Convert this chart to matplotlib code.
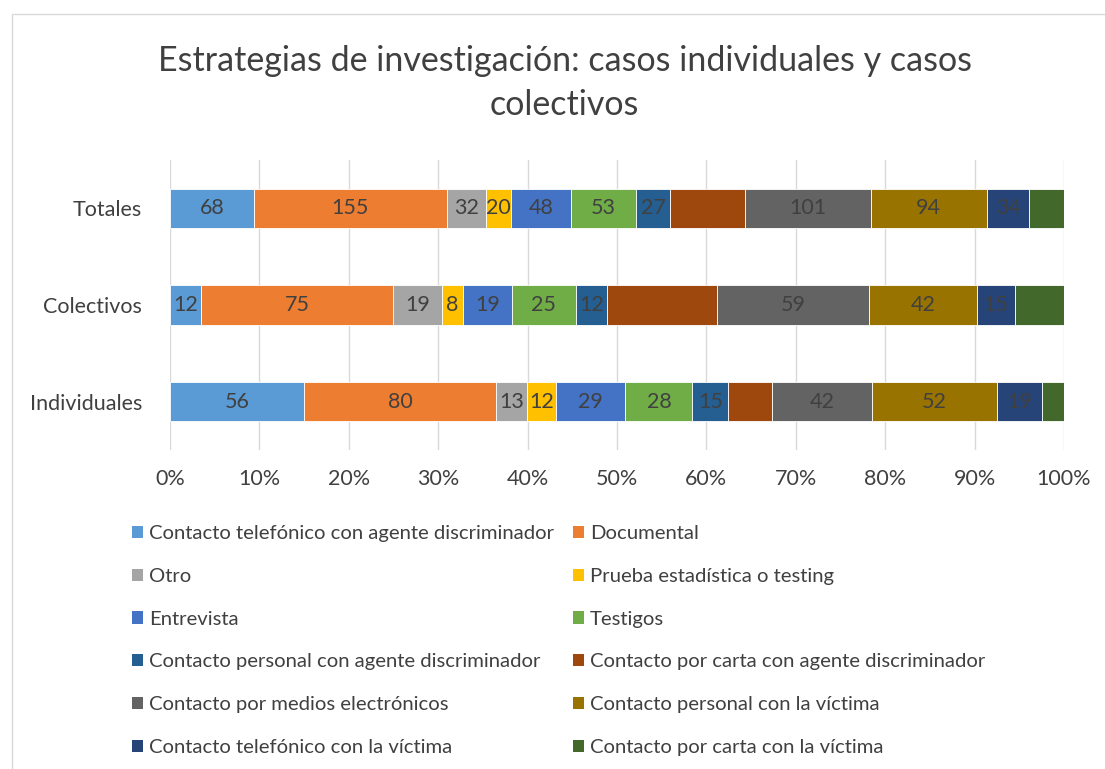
import numpy as np
import matplotlib.pyplot as plt
from matplotlib.patches import Patch, Rectangle

plt.rcParams['font.family'] = ['Lato', 'DejaVu Sans']

categorias = ['Individuales', 'Colectivos', 'Totales']
estrategias = [
    'Contacto telefónico con agente discriminador',
    'Documental',
    'Otro',
    'Prueba estadística o testing',
    'Entrevista',
    'Testigos',
    'Contacto personal con agente discriminador',
    'Contacto por carta con agente discriminador',
    'Contacto por medios electrónicos',
    'Contacto personal con la víctima',
    'Contacto telefónico con la víctima',
    'Contacto por carta con la víctima',
]
# filas: Individuales, Colectivos, Totales
individuales = [56, 80, 13, 12, 29, 28, 15, 18, 42, 52, 19, 9]
colectivos = [12, 75, 19, 8, 19, 25, 12, 43, 59, 42, 15, 19]
totales = [68, 155, 32, 20, 48, 53, 27, 61, 101, 94, 34, 28]
# segmentos sin etiqueta en el original
sin_etiqueta = [7, 11]

colores = ['#5B9BD5', '#ED7D31', '#A5A5A5', '#FFC000', '#4472C4', '#70AD47',
           '#255E91', '#9E480E', '#636363', '#997300', '#264478', '#43682B']

datos = np.array([individuales, colectivos, totales], dtype=float)
pct = datos / datos.sum(axis=1, keepdims=True) * 100

fig = plt.figure(figsize=(11.05, 7.69), dpi=100)
ax = fig.add_axes([170 / 1105, 1 - 450 / 769, 894 / 1105, 290 / 769])

y = np.arange(len(categorias))
izq = np.zeros(len(categorias))
handles = []
for j, nombre in enumerate(estrategias):
    ax.barh(y, pct[:, j], left=izq, height=0.41, color=colores[j],
            edgecolor='white', linewidth=0.6, zorder=3)
    handles.append(Patch(facecolor=colores[j], label=nombre))
    if j not in sin_etiqueta:
        for i in range(len(categorias)):
            ax.text(izq[i] + pct[i, j] / 2, y[i], f'{int(datos[i, j])}',
                    ha='center', va='center', fontsize=15.5, color='#404040',
                    zorder=4)
    izq += pct[:, j]

ax.set_xlim(0, 100)
ax.set_ylim(-0.5, 2.5)
ax.set_xticks(np.arange(0, 101, 10))
ax.set_xticklabels([f'{v}%' for v in range(0, 101, 10)])
ax.set_yticks(y)
ax.set_yticklabels(categorias)
ax.tick_params(axis='both', length=0, labelsize=15.5, labelcolor='#404040', pad=14)
ax.tick_params(axis='y', pad=20)
ax.grid(axis='x', color='#D9D9D9', linewidth=1, zorder=0)
for s in ax.spines.values():
    s.set_visible(False)

fig.text(0.511, 1 - 83 / 769, 'Estrategias de investigación: casos individuales y casos\ncolectivos',
         ha='center', va='center', fontsize=24.5, color='#404040', linespacing=1.45)

orden = list(range(0, 12, 2)) + list(range(1, 12, 2))
fig.legend([handles[k] for k in orden], [estrategias[k] for k in orden],
           ncol=2, loc='upper left', bbox_to_anchor=(124 / 1105, 1 - 517 / 769),
           frameon=False, fontsize=14.6, labelcolor='#404040',
           handlelength=0.55, handleheight=0.55, handletextpad=0.3,
           columnspacing=0.9, labelspacing=1.27, borderaxespad=0)

fig.patches.append(Rectangle((12 / 1105, -0.1), 1.2, 1 - 14 / 769 + 0.1,
                             transform=fig.transFigure, fill=False,
                             edgecolor='#D9D9D9', linewidth=1))

fig.savefig('out.png', dpi=100)
